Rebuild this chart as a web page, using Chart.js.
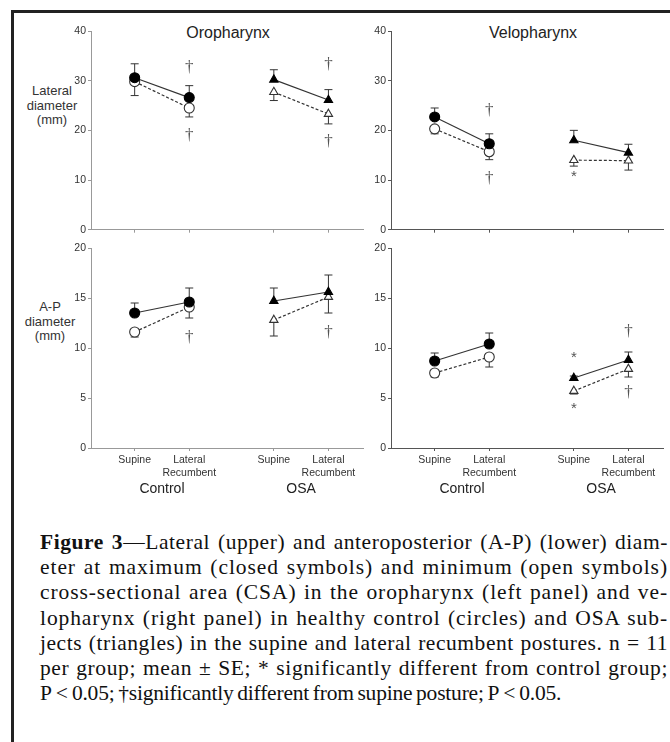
<!DOCTYPE html>
<html>
<head>
<meta charset="utf-8">
<script src="https://cdn.jsdelivr.net/npm/chart.js@4.4.1/dist/chart.umd.min.js"></script>
<style>
body { margin: 0; background: #fff; width: 670px; height: 742px; overflow: hidden; position: relative; font-family: "Liberation Sans", Arial, sans-serif; }
#frame { position: absolute; left: 11px; top: 10px; width: 680px; height: 760px; border-top: 3px solid #222; border-left: 3px solid #222; }
canvas { position: absolute; }
.ttl { position: absolute; font-size: 16px; line-height: 18px; color: #222; transform: translateX(-50%); white-space: nowrap; }
.ytl { position: absolute; font-size: 13px; line-height: 14.5px; color: #333; text-align: center; transform: translateX(-50%); white-space: nowrap; }
#cap { position: absolute; left: 40px; top: 530px; width: 628px; font-family: "Liberation Serif", "Times New Roman", serif; font-size: 21.5px; word-spacing: -1.5px; line-height: 25.2px; color: #111; }
#cap div { text-align: left; white-space: nowrap; }
#cap div.just { text-align: justify; text-align-last: justify; }
#cap div.last { letter-spacing: -0.2px; }
</style>
</head>
<body>
<div id="frame"></div>
<div class="ttl" style="left:228px;top:24px">Oropharynx</div>
<div class="ttl" style="left:533px;top:24px">Velopharynx</div>
<div class="ytl" style="left:52px;top:84px">Lateral<br>diameter<br>(mm)</div>
<div class="ytl" style="left:50px;top:300px">A-P<br>diameter<br>(mm)</div>

<canvas id="ul" width="315" height="219" style="left:55px;top:19px"></canvas>
<canvas id="ur" width="315" height="219" style="left:355px;top:19px"></canvas>
<canvas id="ll" width="315" height="267" style="left:55px;top:236px"></canvas>
<canvas id="lr" width="315" height="267" style="left:355px;top:236px"></canvas>

<div id="cap">
<div><b>Figure 3</b>—Lateral (upper) and anteroposterior (A-P) (lower) diam-</div>
<div>eter at maximum (closed symbols) and minimum (open symbols)</div>
<div>cross-sectional area (CSA) in the oropharynx (left panel) and ve-</div>
<div>lopharynx (right panel) in healthy control (circles) and OSA sub-</div>
<div>jects (triangles) in the supine and lateral recumbent postures. n = 11</div>
<div>per group; mean ± SE; * significantly different from control group;</div>
<div class="last">P&thinsp;&lt;&thinsp;0.05; †significantly different from supine posture; P&thinsp;&lt;&thinsp;0.05.</div>
</div>

<script>
// posiciones de las categorias en el eje x (Control: supine, lateral; OSA: supine, lateral)
const ctrlX = [1, 2];
const osaX = [3.55, 4.55];
const postures = [['Supine'], ['Lateral', 'Recumbent']];
const groups = ['Control', 'OSA'];

// Oropharynx - lateral diameter
const oroLatCtrlMax = [30.6, 26.6], oroLatCtrlMaxSE = [2.8, 2.4];
const oroLatCtrlMin = [29.8, 24.5], oroLatCtrlMinSE = [2.8, 1.8];
const oroLatOsaMax = [30.2, 26.1], oroLatOsaMaxSE = [2.0, 2.1];
const oroLatOsaMin = [27.7, 23.3], oroLatOsaMinSE = [1.7, 2.0];
const oroLatMarks = [['†', 2, 32.7], ['†', 2, 19.0], ['†', 4.55, 33.3], ['†', 4.55, 17.7]];

// Velopharynx - lateral diameter
const veloLatCtrlMax = [22.7, 17.3], veloLatCtrlMaxSE = [1.8, 2.0];
const veloLatCtrlMin = [20.3, 15.7], veloLatCtrlMinSE = [1.0, 1.6];
const veloLatOsaMax = [18.0, 15.5], veloLatOsaMaxSE = [2.0, 1.7];
const veloLatOsaMin = [14.0, 13.9], veloLatOsaMinSE = [1.2, 1.9];
const veloLatMarks = [['†', 2, 24.0], ['†', 2, 10.3], ['*', 3.55, 10.7]];

// Oropharynx - A-P diameter
const oroApCtrlMax = [13.5, 14.6], oroApCtrlMaxSE = [1.0, 1.4];
const oroApCtrlMin = [11.6, 14.1], oroApCtrlMinSE = [0.5, 1.1];
const oroApOsaMax = [14.7, 15.6], oroApOsaMaxSE = [1.3, 1.7];
const oroApOsaMin = [12.8, 15.1], oroApOsaMinSE = [1.6, 1.6];
const oroApMarks = [['†', 2, 11.0], ['†', 4.55, 11.5]];

// Velopharynx - A-P diameter
const veloApCtrlMax = [8.7, 10.4], veloApCtrlMaxSE = [0.8, 1.1];
const veloApCtrlMin = [7.5, 9.1], veloApCtrlMinSE = [0.4, 1.0];
const veloApOsaMax = [7.0, 8.8], veloApOsaMaxSE = [0.2, 0.8];
const veloApOsaMin = [5.7, 7.9], veloApOsaMinSE = [0.3, 0.8];
const veloApMarks = [['*', 3.55, 9.0], ['*', 3.55, 3.9], ['†', 4.55, 11.6], ['†', 4.55, 5.5]];

Chart.defaults.font.family = '"Liberation Sans", Arial, sans-serif';

// ajustar cada linea del pie: repartir el sobrante entre las letras y justificar el resto
document.querySelectorAll('#cap div:not(.last)').forEach(d => {
    const r = document.createRange();
    r.selectNodeContents(d);
    const w = r.getBoundingClientRect().width;
    const n = d.textContent.length;
    const extra = Math.max(0, (d.clientWidth - w - 3 * 8) / n);
    d.style.letterSpacing = extra.toFixed(2) + 'px';
    d.classList.add('just');
});

// una serie: cerrada = +SE, abierta = -SE
function serie(xs, medias, se, forma, abierto) {
    return {
        data: medias.map((v, i) => ({ x: xs[i], y: v })),
        se: se,
        dir: abierto ? -1 : 1,
        showLine: true,
        borderColor: '#333',
        borderWidth: 1.2,
        borderDash: abierto ? [3, 2] : [],
        pointStyle: forma,
        pointRadius: forma === 'circle' ? 5 : 4.8,
        pointBackgroundColor: abierto ? '#fff' : '#000',
        pointBorderColor: abierto ? '#333' : '#000',
        pointBorderWidth: 1.1
    };
}

// plugin con barras de error, simbolos de significancia y nombres de grupo
function extras(marcas, conGrupos) {
    return {
        id: 'extras',
        beforeDatasetsDraw(chart) {
            const ctx = chart.ctx, ys = chart.scales.y;
            ctx.save();
            ctx.strokeStyle = '#333';
            ctx.lineWidth = 1;
            chart.data.datasets.forEach((ds, d) => {
                const meta = chart.getDatasetMeta(d);
                meta.data.forEach((pt, i) => {
                    const v = ds.data[i].y;
                    const y1 = ys.getPixelForValue(v + ds.dir * ds.se[i]);
                    ctx.beginPath();
                    ctx.moveTo(pt.x, pt.y);
                    ctx.lineTo(pt.x, y1);
                    ctx.moveTo(pt.x - 4, y1);
                    ctx.lineTo(pt.x + 4, y1);
                    ctx.stroke();
                });
            });
            ctx.restore();
        },
        afterDatasetsDraw(chart) {
            const ctx = chart.ctx;
            ctx.save();
            ctx.textAlign = 'center';
            ctx.textBaseline = 'middle';
            marcas.forEach(([s, x, y]) => {
                const px = chart.scales.x.getPixelForValue(x);
                const py = chart.scales.y.getPixelForValue(y);
                if (s === '†') {
                    ctx.font = '17px "Liberation Serif"';
                    ctx.fillStyle = '#555';
                } else {
                    ctx.font = '15px "Liberation Sans"';
                    ctx.fillStyle = '#555';
                }
                ctx.fillText(s, px, py);
            });
            if (conGrupos) {
                const b = chart.chartArea.bottom + 41;
                ctx.font = '14px "Liberation Sans"';
                ctx.fillStyle = '#222';
                ctx.fillText(groups[0], chart.scales.x.getPixelForValue((ctrlX[0] + ctrlX[1]) / 2), b);
                ctx.fillText(groups[1], chart.scales.x.getPixelForValue((osaX[0] + osaX[1]) / 2), b);
            }
            ctx.restore();
        }
    };
}

function crearPanel(id, series, marcas, ymax, paso, conX, colorEje) {
    const todosX = ctrlX.concat(osaX);
    return new Chart(document.getElementById(id), {
        type: 'scatter',
        data: {
            datasets: [
                serie(ctrlX, series[0], series[1], 'circle', false),
                serie(ctrlX, series[2], series[3], 'circle', true),
                serie(osaX, series[4], series[5], 'triangle', false),
                serie(osaX, series[6], series[7], 'triangle', true)
            ]
        },
        options: {
            responsive: false,
            animation: false,
            events: [],
            layout: { padding: { top: 12, left: 0, right: 0, bottom: 0 } },
            plugins: { legend: { display: false }, tooltip: { enabled: false } },
            scales: {
                x: {
                    type: 'linear', min: 0.2, max: 5.2,
                    afterBuildTicks: s => { s.ticks = todosX.map(v => ({ value: v })); },
                    afterFit: s => { s.height = conX ? 55 : 8; },
                    grid: { drawOnChartArea: false, drawTicks: true, tickLength: 3, color: colorEje },
                    border: { color: colorEje, width: 1 },
                    ticks: {
                        display: conX, autoSkip: false, maxRotation: 0, padding: 3,
                        color: '#333', font: { size: 10.5 },
                        callback: (v, i) => postures[i % 2]
                    }
                },
                y: {
                    min: 0, max: ymax,
                    afterFit: s => { s.width = 36; },
                    ticks: { stepSize: paso, color: '#333', font: { size: 10.5 }, padding: 2 },
                    grid: { drawOnChartArea: false, tickLength: 3, color: colorEje },
                    border: { color: colorEje, width: 1 }
                }
            }
        },
        plugins: [extras(marcas, conX)]
    });
}

crearPanel('ul', [oroLatCtrlMax, oroLatCtrlMaxSE, oroLatCtrlMin, oroLatCtrlMinSE, oroLatOsaMax, oroLatOsaMaxSE, oroLatOsaMin, oroLatOsaMinSE], oroLatMarks, 40, 10, false, '#999');
crearPanel('ur', [veloLatCtrlMax, veloLatCtrlMaxSE, veloLatCtrlMin, veloLatCtrlMinSE, veloLatOsaMax, veloLatOsaMaxSE, veloLatOsaMin, veloLatOsaMinSE], veloLatMarks, 40, 10, false, '#555');
crearPanel('ll', [oroApCtrlMax, oroApCtrlMaxSE, oroApCtrlMin, oroApCtrlMinSE, oroApOsaMax, oroApOsaMaxSE, oroApOsaMin, oroApOsaMinSE], oroApMarks, 20, 5, true, '#999');
crearPanel('lr', [veloApCtrlMax, veloApCtrlMaxSE, veloApCtrlMin, veloApCtrlMinSE, veloApOsaMax, veloApOsaMaxSE, veloApOsaMin, veloApOsaMinSE], veloApMarks, 20, 5, true, '#555');
</script>
</body>
</html>
